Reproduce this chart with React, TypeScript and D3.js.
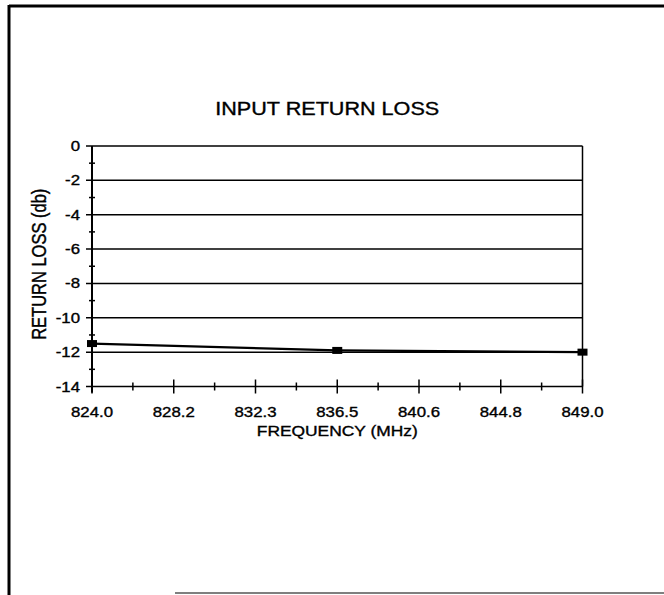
import React from "react";
import * as d3 from "d3";

// input return loss sweep

const chartTitle = "INPUT RETURN LOSS";
const xTitle = "FREQUENCY (MHz)";
const yTitle = "RETURN LOSS (db)";

const frequencies = [824.0, 836.5, 849.0];
const returnLoss = [-11.5, -11.9, -12.0];

const xTickLabels = ["824.0", "828.2", "832.3", "836.5", "840.6", "844.8", "849.0"];
const yTickValues = [0, -2, -4, -6, -8, -10, -12, -14];

const W = 664;
const H = 595;
const FONT = "'Liberation Sans', Arial, Helvetica, sans-serif";
const STRETCH = 1.2; // the scan is a bit wider than tall

export default function App() {
  const x = d3.scaleLinear().domain([824, 849]).range([92, 582.5]);
  const y = d3.scaleLinear().domain([0, -14]).range([146, 386.5]);

  const [x0, x1] = x.range();
  const [y0, y1] = y.range();

  // 12 tick intervals along x, labels on every second one
  const xTicks = d3.range(13).map((i) => 824 + (i * 25) / 12);
  const yMinor = d3.range(-13, 0, 2);

  const line = d3
    .line<number>()
    .x((d, i) => x(frequencies[i]))
    .y((d) => y(d));

  const txt = (
    label: string,
    tx: number,
    ty: number,
    size: number,
    anchor: string,
    key?: string | number
  ) => (
    <text
      key={key}
      transform={`translate(${tx},${ty}) scale(${STRETCH},1)`}
      textAnchor={anchor}
      fontSize={size}
      fontFamily={FONT}
      fill="#000"
      stroke="#000"
      strokeWidth={0.35}
    >
      {label}
    </text>
  );

  return (
    <svg
      width={W}
      height={H}
      style={{ position: "absolute", left: 0, top: 0, background: "#fff" }}
    >
      {/* page frame from the scan */}
      <line x1={9} x2={W} y1={6} y2={6} stroke="#000" strokeWidth={3} />
      <line x1={9} x2={9} y1={5} y2={H} stroke="#000" strokeWidth={3} />
      <line x1={175} x2={W} y1={593} y2={593} stroke="#555" strokeWidth={1.5} />

      {txt(chartTitle, (x0 + x1) / 2 - 10, 115, 18, "middle")}

      {/* grid lines */}
      {yTickValues.map((v) => (
        <line
          key={v}
          x1={x0 - 6}
          x2={x1}
          y1={y(v)}
          y2={y(v)}
          stroke="#000"
          strokeWidth={1.5}
        />
      ))}
      <line x1={x1} x2={x1} y1={y0} y2={y1} stroke="#000" strokeWidth={1.5} />
      <line x1={x0} x2={x0} y1={y0} y2={y1 + 6} stroke="#000" strokeWidth={2} />

      {/* y minor ticks */}
      {yMinor.map((v) => (
        <line
          key={v}
          x1={x0 - 3}
          x2={x0 + 3}
          y1={y(v)}
          y2={y(v)}
          stroke="#000"
          strokeWidth={1.5}
        />
      ))}

      {/* x ticks */}
      {xTicks.map((v, i) => (
        <line
          key={i}
          x1={x(v)}
          x2={x(v)}
          y1={y1 - (i % 2 === 0 ? 7 : 4)}
          y2={y1 + (i % 2 === 0 ? 7 : 4)}
          stroke="#000"
          strokeWidth={1.5}
        />
      ))}

      {/* y tick labels */}
      {yTickValues.map((v) => txt(String(v), x0 - 12, y(v) + 5, 14, "end", "y" + v))}

      {/* x tick labels */}
      {xTickLabels.map((l, i) => txt(l, x(xTicks[i * 2]), 417, 14, "middle", "x" + i))}

      {txt(xTitle, (x0 + x1) / 2, 436, 14.5, "middle")}

      <text
        transform={`translate(46,${(y0 + y1) / 2 - 2}) rotate(-90) scale(1,${STRETCH})`}
        textAnchor="middle"
        fontSize={16.5}
        fontFamily={FONT}
        fill="#000"
        stroke="#000"
        strokeWidth={0.35}
      >
        {yTitle}
      </text>

      {/* series */}
      <path d={line(returnLoss) ?? ""} fill="none" stroke="#000" strokeWidth={2.2} />
      {returnLoss.map((v, i) => (
        <rect
          key={i}
          x={x(frequencies[i]) - 5}
          y={y(v) - 3.5}
          width={10}
          height={7}
          fill="#000"
        />
      ))}
    </svg>
  );
}
